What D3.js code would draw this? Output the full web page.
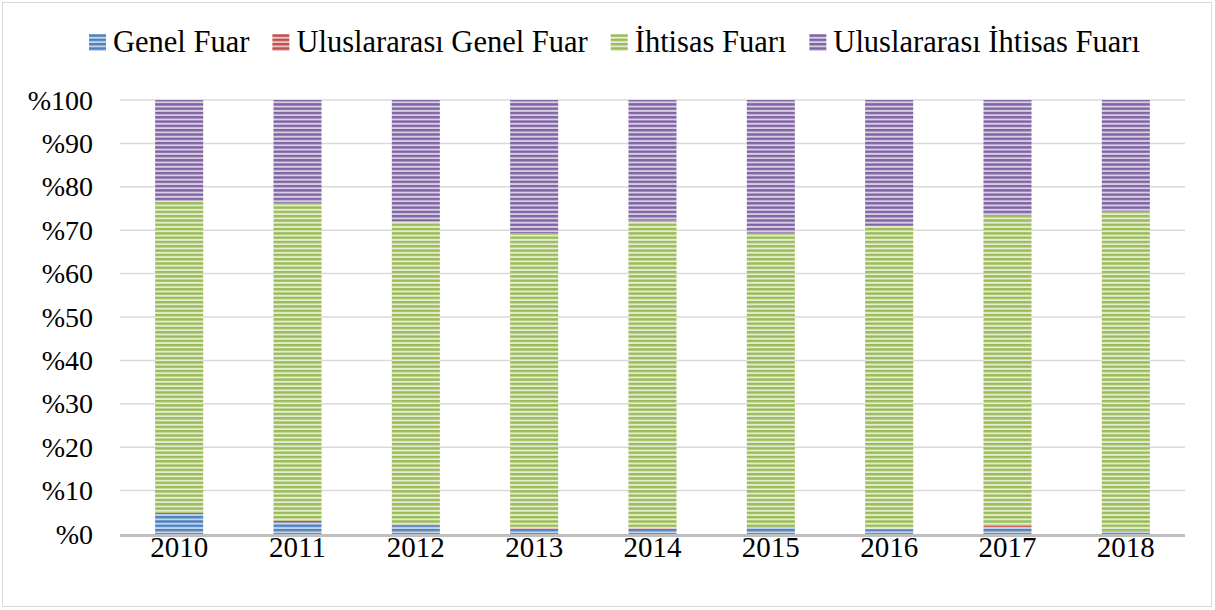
<!DOCTYPE html>
<html>
<head>
<meta charset="utf-8">
<script src="https://cdn.jsdelivr.net/npm/d3@7"></script>
<style>
  html, body { margin: 0; padding: 0; background: #fff; }
  svg { display: block; }
  text { font-family: "Liberation Serif", "DejaVu Serif", serif; fill: #000; }
</style>
</head>
<body>
<svg id="chart" width="1215" height="610"></svg>
<script>
const years = ["2010","2011","2012","2013","2014","2015","2016","2017","2018"];
const seriesNames = ["Genel Fuar","Uluslararası Genel Fuar","İhtisas Fuarı","Uluslararası İhtisas Fuarı"];
const genel     = [4.6, 2.7, 1.9, 1.2, 1.2, 1.4, 1.0, 1.6, 0.6];
const ulGenel   = [0.3, 0.4, 0.3, 0.3, 0.3, 0.2, 0.2, 0.3, 0.1];
const ihtisas   = [71.8, 73.2, 69.9, 67.8, 70.7, 67.8, 69.8, 71.6, 73.6];
const ulIhtisas = [23.3, 23.7, 27.9, 30.7, 27.8, 30.6, 29.0, 26.5, 25.7];
const yTicks = [0,10,20,30,40,50,60,70,80,90,100];

const darkCols  = ["#4f81bd","#c0504d","#9bbb59","#8064a2"];
const lightCols = ["#c3d5ec","#ecc4c3","#e4edd2","#d8cfe6"];

const svg = d3.select("#chart");
const plot = {left: 120, right: 1185, top: 100, bottom: 534};

// border
svg.append("rect").attr("x",2.5).attr("y",2.5).attr("width",1209).attr("height",604)
  .attr("fill","#fff").attr("stroke","#d9d9d9").attr("stroke-width",1);

// patterns
const defs = svg.append("defs");
seriesNames.forEach((s,i)=>{
  const p = defs.append("pattern").attr("id","pat"+i)
    .attr("patternUnits","userSpaceOnUse").attr("width",8).attr("height",4.3);
  p.append("rect").attr("width",8).attr("height",4.3).attr("fill",lightCols[i]);
  p.append("rect").attr("y",0).attr("width",8).attr("height",2.4).attr("fill",darkCols[i]);
});

const rows = years.map((y,i)=>({year:y, s0:genel[i], s1:ulGenel[i], s2:ihtisas[i], s3:ulIhtisas[i]}));
const stack = d3.stack().keys(["s0","s1","s2","s3"])(rows);

const x = d3.scaleBand().domain(years).range([plot.left, plot.right]).paddingInner(0.594).paddingOuter(0.297);
const y = d3.scaleLinear().domain([0,100]).range([plot.bottom, plot.top]);

// gridlines
svg.append("g").selectAll("line").data(yTicks.filter(d=>d>0)).join("line")
  .attr("x1",plot.left).attr("x2",plot.right)
  .attr("y1",d=>y(d)).attr("y2",d=>y(d))
  .attr("stroke","#d9d9d9").attr("stroke-width",1.5);

// y labels
svg.append("g").selectAll("text").data(yTicks).join("text")
  .attr("x",93).attr("y",d=>y(d)).attr("dy","0.34em")
  .attr("text-anchor","end").attr("font-size",28)
  .text(d=>"%"+d);

// bars
svg.append("g").selectAll("g").data(stack).join("g")
  .attr("fill",(d,i)=>"url(#pat"+i+")")
  .selectAll("rect").data(d=>d).join("rect")
  .attr("x",d=>x(d.data.year)).attr("width",x.bandwidth())
  .attr("y",d=>y(d[1])).attr("height",d=>y(d[0])-y(d[1]));

// baseline axis
svg.append("line").attr("x1",plot.left).attr("x2",plot.right)
  .attr("y1",plot.bottom+1.5).attr("y2",plot.bottom+1.5)
  .attr("stroke","#bfbfbf").attr("stroke-width",3);

// x labels
svg.append("g").selectAll("text").data(years).join("text")
  .attr("x",d=>x(d)+x.bandwidth()/2).attr("y",557)
  .attr("text-anchor","middle").attr("font-size",29)
  .text(d=>d);

// legend
const lg = svg.append("g");
const items = lg.selectAll("g").data(seriesNames).join("g");
items.append("rect").attr("x",0).attr("y",34).attr("width",17).attr("height",17)
  .attr("fill",(d,i)=>"url(#pat"+i+")");
items.append("text").attr("x",24).attr("y",52).attr("font-size",30.5).text(d=>d);
const widths = [];
items.each(function(d,i){
  widths.push(24 + this.querySelector("text").getComputedTextLength());
});
const gap = 23;
const total = d3.sum(widths) + gap*(widths.length-1);
let start = 614.5 - total/2;
items.attr("transform",(d,i)=>{
  const t = "translate(" + start + ",0)";
  start += widths[i] + gap;
  return t;
});
</script>
</body>
</html>
